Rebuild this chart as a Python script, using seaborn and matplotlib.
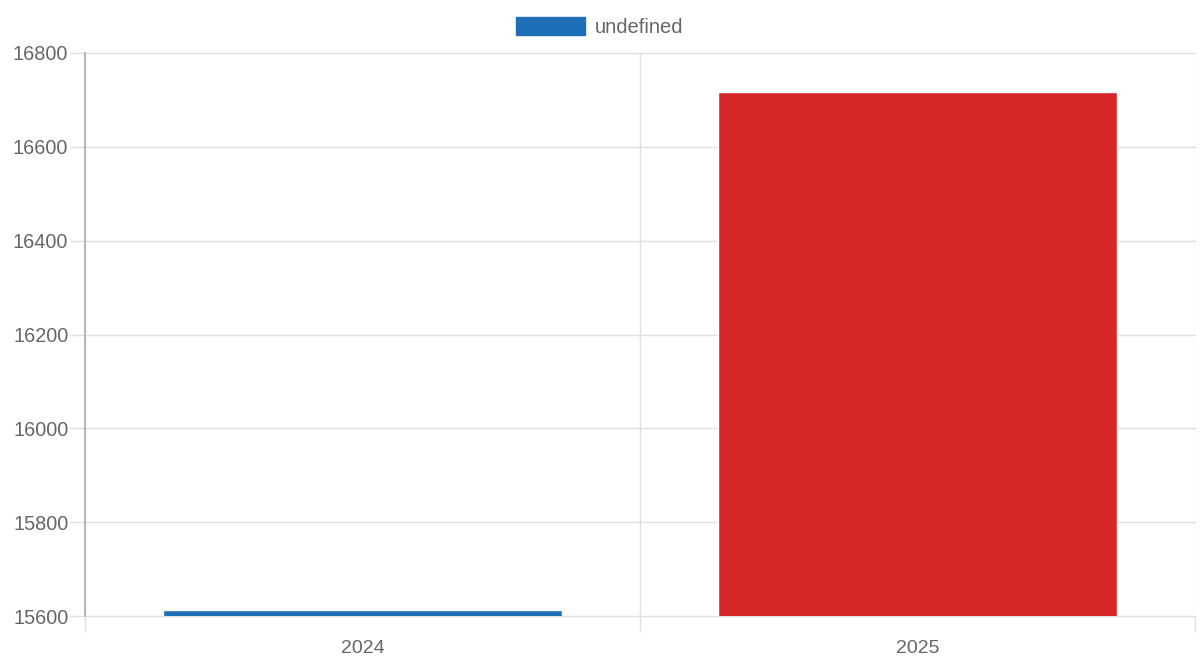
import matplotlib
matplotlib.use("Agg")
import matplotlib.pyplot as plt
import matplotlib.patches as mpatches
import seaborn as sns
import pandas as pd

years = ["2024", "2025"]
values = [15612, 16717]
bar_colors = ["#1f6fb8", "#d62728"]
legend_label = "undefined"
y_ticks = [15600, 15800, 16000, 16200, 16400, 16600, 16800]

sns.set_theme(style="white")
plt.rcParams["font.family"] = ["Liberation Sans", "DejaVu Sans"]

df = pd.DataFrame({"year": years, "value": values})

fig = plt.figure(figsize=(12, 6.67), dpi=100)
ax = fig.add_axes([85/1200, 51/667, 1110/1200, 563/667])

sns.barplot(data=df, x="year", y="value", hue="year", palette=bar_colors,
            width=0.72, legend=False, ax=ax, saturation=1)

ax.set_ylim(15600, 16800)
ax.set_xlim(-0.5, 1.5)
ax.set_yticks(y_ticks)
ax.set_yticklabels([str(v) for v in y_ticks])
ax.set_xlabel("")
ax.set_ylabel("")

grid_c = "#e0e0e0"
text_c = "#666666"
ax.yaxis.grid(True, color=grid_c, linewidth=1)
ax.set_xticks([-0.5, 0.5, 1.5], minor=True)
ax.xaxis.grid(True, which="minor", color=grid_c, linewidth=1)
ax.set_axisbelow(True)
for gl in ax.get_ygridlines():
    gl.set_clip_on(False)

for s in ["top", "right", "bottom"]:
    ax.spines[s].set_visible(False)
ax.spines["left"].set_color("#aaaaaa")
ax.spines["left"].set_linewidth(1.2)

ax.tick_params(axis="x", which="major", bottom=True, length=0, pad=17,
               labelsize=14, labelcolor=text_c)
ax.tick_params(axis="x", which="minor", bottom=True, length=11.5, color=grid_c, width=1)
ax.tick_params(axis="y", left=True, length=11, color=grid_c, width=1, pad=1,
               labelsize=14.3, labelcolor=text_c)

handle = mpatches.Patch(facecolor=bar_colors[0], edgecolor=bar_colors[0])
fig.legend(handles=[handle], labels=[legend_label], loc="center",
           bbox_to_anchor=(0.5, 1 - 27/667), frameon=False, fontsize=14.5,
           labelcolor=text_c, handlelength=3.4, handleheight=1.0, handletextpad=0.5)

fig.savefig("out.png", dpi=100, facecolor="white")
